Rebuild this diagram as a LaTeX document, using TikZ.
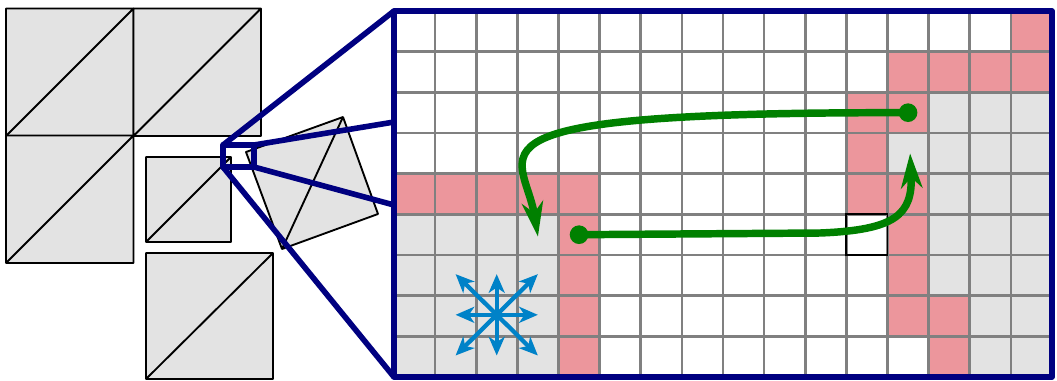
\documentclass[tikz,border=0pt]{standalone}
\usepackage{xcolor}
\usepackage{tikz}
\usetikzlibrary{arrows.meta}

\definecolor{cellpink}{RGB}{236,150,156}
\definecolor{cellgray}{RGB}{227,227,227}
\definecolor{zoomblue}{RGB}{0,0,128}
\definecolor{pathgreen}{RGB}{0,128,0}
\definecolor{starblue}{RGB}{0,130,200}

\begin{document}
\begin{tikzpicture}[
  x=0.75pt, y=-0.75pt,
  tri/.style={draw, fill=cellgray, line width=1.4pt, line join=round},
  cellline/.style={draw=gray, line width=1.9pt},
  zoom/.style={draw=zoomblue, line width=4.2pt, line join=round},
  route/.style={draw=pathgreen, line width=5.6pt, -{Stealth[length=26pt, width=16pt, inset=8pt]}},
  dot/.style={circle, fill=pathgreen, inner sep=0pt, minimum size=14pt},
  dir/.style={draw=starblue, line width=3.2pt, -{Stealth[length=14pt, width=12pt, inset=4pt]}}
]
  \useasboundingbox (0,0) rectangle (1057,380);

  % coarse mesh
  \foreach \x/\y in {6/8.5, 133.5/8.5, 6/135.5}
    \draw[tri] (\x,\y) rectangle ++(127.5,127.5) (\x,\y+127.5) -- ++(127.5,-127.5);
  \draw[tri] (146,157) rectangle (231,242) (146,242) -- (231,157);
  \draw[tri] (146,253) rectangle (273,379) (146,379) -- (273,253);
  \draw[tri] (246,152) -- (343,117) -- (378,214) -- (282,249) -- cycle (282,249) -- (343,117);

  % lens
  \coordinate (lensnw) at (223,145);
  \coordinate (lensne) at (254,145);
  \coordinate (lensse) at (254,167);
  \coordinate (lenssw) at (223,167);
  \draw[zoom] (lensnw) rectangle (lensse);

  % zoomed grid
  \begin{scope}[shift={(394,11)}, xscale=41.125, yscale=40.67]
    \fill[cellgray] (0,5) rectangle (4,9);
    \fill[cellgray] (13,2) rectangle (16,9);
    \fill[cellgray] (12,3) rectangle (13,4);
    \foreach \c/\r in {15/0, 12/1, 13/1, 14/1, 15/1, 11/2, 12/2, 11/3,
                       0/4, 1/4, 2/4, 3/4, 4/4, 11/4, 12/4, 4/5, 12/5,
                       4/6, 12/6, 4/7, 12/7, 13/7, 4/8, 13/8}
      \fill[cellpink] (\c,\r) rectangle ++(1,1);
    \foreach \i in {1,...,15}
      \draw[cellline] (\i,0) -- (\i,9);
    \foreach \j in {1,...,8}
      \draw[cellline] (0,\j) -- (16,\j);
    \draw[line width=1.4pt] (11,5) rectangle (12,6);

    \coordinate (gridnw) at (0,0);
    \coordinate (gridsw) at (0,9);
    \coordinate (gridup) at (0,2.73);
    \coordinate (griddn) at (0,4.77);
    \draw[zoom] (0,0) rectangle (16,9);

    \node[dot] (from1) at (12.5,2.5) {};
    \node[dot] (from2) at (4.5,5.5) {};
    \coordinate (to1) at (3.5,5.55);
    \coordinate (to2) at (12.55,3.5);

    \coordinate (hub) at (2.5,7.5);
    \foreach \dx/\dy in {1/0, 1/1, 0/1, -1/1, -1/0, -1/-1, 0/-1, 1/-1}
      \draw[dir] (hub) -- ++(\dx,\dy);
  \end{scope}

  \draw[zoom] (lensnw) -- (gridnw);
  \draw[zoom] (lenssw) -- (gridsw);
  \draw[zoom] (lensne) -- (gridup);
  \draw[zoom] (lensse) -- (griddn);

  \draw[route] (from1.center) .. controls (440,112) and (524,150) .. (to1);
  \draw[route] (from2.center) -- (820,233) .. controls (895,230) and (913,215) .. (to2);
\end{tikzpicture}
\end{document}
